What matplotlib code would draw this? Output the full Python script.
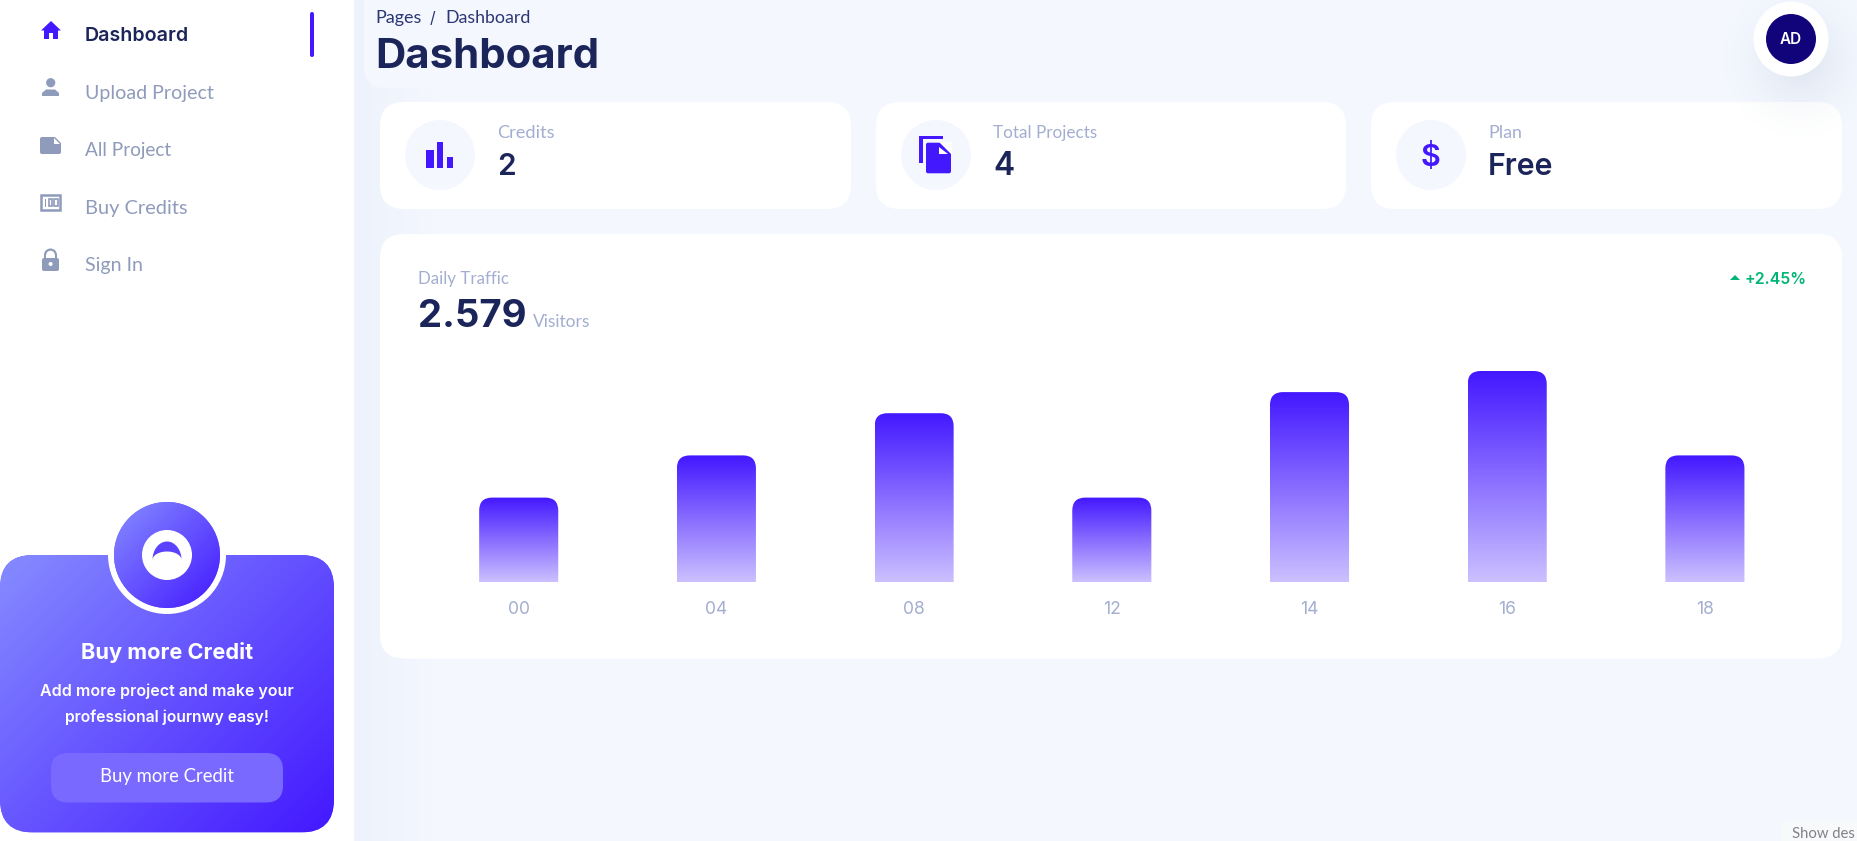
import numpy as np
import matplotlib
matplotlib.use("Agg")
import matplotlib.pyplot as plt
from matplotlib.colors import to_rgb
from matplotlib.font_manager import FontProperties
from matplotlib.patches import Circle, FancyBboxPatch, PathPatch, Polygon, Rectangle, Wedge
from matplotlib.path import Path
from matplotlib.textpath import TextPath

hours = ["00", "04", "08", "12", "14", "16", "18"]
traffic = [20, 30, 40, 20, 45, 50, 30]

nav_items = ["Dashboard", "Upload Project", "All Project", "Buy Credits", "Sign In"]
stat_labels = ["Credits", "Total Projects", "Plan"]
stat_values = ["2", "4", "Free"]

W, H = 1857, 841
NAVY = "#1B2559"
GRAY = "#A3AED0"
SIDE = "#8F9BBA"
BLUE = "#4318FF"
BG = "#F4F7FE"
FONT = "Lato"
HEAVY = "Inter"

fig = plt.figure(figsize=(W / 100, H / 100), dpi=100, facecolor=BG)
ui = fig.add_axes([0, 0, 1, 1])
ui.set_xlim(0, W)
ui.set_ylim(H, 0)
ui.axis("off")
ui.set_autoscale_on(False)


def T(s, x, y, width, color, weight="normal", ha="left", z=10, font=FONT):
    fp = FontProperties(family=font, weight=weight)
    ext = TextPath((0, 0), s, size=100, prop=fp).get_extents().width
    px = width / ext * 100
    ui.text(x, y, s, fontproperties=fp, fontsize=px * 0.72, color=color,
            ha=ha, va="baseline", zorder=z)


def rrect(x0, y0, x1, y1, r, color, z=2, **kw):
    p = FancyBboxPatch((x0, y0), x1 - x0, y1 - y0,
                       boxstyle=f"round,pad=0,rounding_size={r}",
                       fc=color, ec="none", zorder=z, **kw)
    ui.add_patch(p)
    return p


def circ(x, y, r, color, z=3):
    p = Circle((x, y), r, fc=color, ec="none", zorder=z)
    ui.add_patch(p)
    return p


def poly(pts, color, z=4):
    p = Polygon(pts, closed=True, fc=color, ec="none", zorder=z)
    ui.add_patch(p)
    return p


def diag_gradient(x0, y0, x1, y1, c1, c2, clip, z=3):
    w, h = x1 - x0, y1 - y0
    nx, ny = int(w), int(h)
    X, Y = np.meshgrid(np.linspace(0, w, nx), np.linspace(0, h, ny))
    t = (X + Y) / (w + h)
    a, b = np.array(to_rgb(c1)), np.array(to_rgb(c2))
    arr = a[None, None, :] * (1 - t[..., None]) + b[None, None, :] * t[..., None]
    im = ui.imshow(arr, extent=(x0, x1, y1, y0), origin="upper", aspect="auto",
                   zorder=z, interpolation="bilinear")
    im.set_clip_path(clip)


# ---- page background: sidebar shadow fading into the main area
g = np.linspace(0, 1, 80)[None, :, None]
c1, c2 = np.array(to_rgb("#EEF2FC")), np.array(to_rgb(BG))
ui.imshow(c1[None, None, :] * (1 - g) + c2[None, None, :] * g,
          extent=(354, 434, H, 0), origin="upper", aspect="auto", zorder=0)
rrect(364, -30, 700, 88, 20, BG, z=0.5)
ui.add_patch(Rectangle((0, 0), 354, H, fc="white", ec="none", zorder=1))

# ---- sidebar navigation
nav_y = [41, 98.5, 156, 213.5, 271]
nav_w = [101, 127, 86, 100, 56]
for i, (s, y, w) in enumerate(zip(nav_items, nav_y, nav_w)):
    if i == 0:
        T(s, 85, y, w, NAVY, weight="semibold", font=HEAVY)
    else:
        T(s, 85, y, w, SIDE)
rrect(310, 12, 314, 57, 2, BLUE, z=4)

# home
poly([(41, 30.5), (51, 21), (61, 30.5), (58, 30.5), (58, 39), (53, 39), (53, 33),
      (49, 33), (49, 39), (44, 39), (44, 30.5)], BLUE)
# person
circ(50.7, 82.7, 4.6, SIDE, z=4)
poly([(42, 96), (42, 93), (46, 89.5), (55, 89.5), (59, 93), (59, 96)], SIDE)
# file
rrect(40, 137, 61, 154, 2, SIDE, z=4)
poly([(54, 136), (62, 136), (62, 144)], "white", z=5)
poly([(54, 138), (54, 144), (60, 144)], "white", z=5)
# banknote
ui.add_patch(Rectangle((41, 195), 19, 15, fc="white", ec=SIDE, lw=1.8, zorder=4))
ui.add_patch(Rectangle((44.5, 198.5), 1.6, 8, fc=SIDE, ec="none", zorder=5))
for bx in (48.5, 54):
    ui.add_patch(Rectangle((bx, 199), 3.6, 7.2, fc="white", ec=SIDE, lw=1.2, zorder=5))
# lock
rrect(42, 258, 59, 271, 2, SIDE, z=4)
ui.add_patch(Wedge((50.5, 255), 6.5, 180, 360, width=2.2, fc=SIDE, ec="none", zorder=4))
ui.add_patch(Rectangle((44, 255), 2.2, 4, fc=SIDE, ec="none", zorder=4))
ui.add_patch(Rectangle((54.8, 255), 2.2, 4, fc=SIDE, ec="none", zorder=4))
circ(50.6, 264, 2, "white", z=5)

# ---- promo card
card = rrect(0, 555, 334, 832.5, 33, "#6A5CFF", z=2)
diag_gradient(0, 555, 334, 832.5, "#868CFF", BLUE, card, z=3)
circ(167, 555, 59, "white", z=4)
disc = circ(167, 555, 53, "#6A5CFF", z=5)
diag_gradient(114, 502, 220, 608, "#868CFF", BLUE, disc, z=6)
circ(167, 555, 25, "white", z=7)
th = np.linspace(np.pi, 2 * np.pi, 40)
outer = np.c_[167 + 14.5 * np.cos(th), 560 + 18.5 * np.sin(th)]
inner = np.c_[167 + 14.5 * np.cos(th[::-1]), 560 + 8.5 * np.sin(th[::-1])]
poly(np.r_[outer, inner], "#5A42FF", z=8)
T("Buy more Credit", 167, 659, 170, "white", weight="bold", ha="center", font=HEAVY)
T("Add more project and make your", 167, 696, 252, "white", weight="semibold", ha="center", font=HEAVY)
T("professional journwy easy!", 167, 722, 202, "white", weight="semibold", ha="center", font=HEAVY)
rrect(51, 753, 283, 802.5, 17, "#7A69FF", z=8)
T("Buy more Credit", 167, 782, 132, "white", ha="center")

# ---- header
T("Pages", 375, 23, 44, "#2B3674")
T("/", 430, 23, 5, "#2B3674", font=HEAVY)
T("Dashboard", 445.5, 23, 82, "#2B3674")
T("Dashboard", 375, 68, 219, NAVY, weight="bold", font=HEAVY)

# ---- stat cards
cards = [(380, 851), (876, 1346), (1371, 1842)]
circle_x = [440, 936, 1431]
text_x = [497, 993, 1488]
label_w = [56, 103, 31]
value_w = [15, 18, 62]
for (x0, x1), cx, tx, lab, val, lw_, vw in zip(cards, circle_x, text_x, stat_labels,
                                               stat_values, label_w, value_w):
    rrect(x0, 102, x1, 209, 24, "white")
    circ(cx, 155, 35, BG)
    T(lab, tx, 138, lw_, GRAY)
    T(val, tx, 175, vw, NAVY, weight="semibold", font=HEAVY)

# bar icon
for x0, x1, top in [(426, 434, 150), (437, 443, 142), (447, 453, 157)]:
    ui.add_patch(Rectangle((x0, top), x1 - x0, 168 - top, fc=BLUE, ec="none", zorder=4))
# document icon
poly([(919, 136), (943, 136), (943, 139), (923, 139), (923, 163), (919, 163)], BLUE)
rrect(926, 142.7, 951, 173.3, 2, BLUE, z=4)
poly([(939, 141.7), (952, 141.7), (952, 154.7)], "white", z=5)
poly([(939.3, 146.7), (939.3, 154.3), (948.3, 154.3)], "white", z=5)
# dollar sign
ui.text(1430.5, 166, "$", family="Inter", weight="semibold", fontsize=22, color=BLUE,
        ha="center", va="baseline", zorder=5)

# ---- avatar with soft shadow
sx, sy = np.meshgrid(np.linspace(-90, 90, 180), np.linspace(-90, 90, 180))
rad = np.clip(np.hypot(sx, sy) / 90, 0, 1)
shadow = np.zeros((180, 180, 4))
shadow[..., :3] = to_rgb("#7090B0")
shadow[..., 3] = 0.2 * (1 - rad) ** 2
ui.imshow(shadow, extent=(1710, 1890, 150, -30), origin="upper", aspect="auto", zorder=5)
circ(1791, 39, 37.5, "white", z=6)
circ(1791, 39, 25, "#11047A", z=7)
T("AD", 1791, 44, 21, "white", weight="semibold", ha="center", font=HEAVY)

# ---- traffic card
rrect(380, 234, 1842, 658.5, 24, "white")
T("Daily Traffic", 418, 284, 89, GRAY)
T("2.579", 418, 327, 105, NAVY, weight="bold", font=HEAVY)
T("Visitors", 533, 327, 57, GRAY)
T("+2.45%", 1744.5, 284, 59, "#01B574", weight="semibold", font=HEAVY)
poly([(1730, 280), (1735, 275), (1740, 280)], "#01B574")

# chart axes, pixel-aligned with the card
STEP = 197.7
ax_left, ax_right = 518.7 - STEP / 2, 518.7 + 6.5 * STEP
ax_bottom, ax_top = 582, 371
ax = fig.add_axes([ax_left / W, 1 - ax_bottom / H, (ax_right - ax_left) / W,
                   (ax_bottom - ax_top) / H], zorder=3)
ax.patch.set_alpha(0)
ax.set_xlim(-0.5, 6.5)
ax.set_ylim(0, 50)
for s in ax.spines.values():
    s.set_visible(False)
xs = np.arange(len(hours))
bars = ax.bar(xs, traffic, width=0.4, color="none", edgecolor="none")
ax.set_xticks(xs, hours)
ax.set_yticks([])
ax.tick_params(axis="x", length=0, pad=13.5, labelsize=12.6, labelcolor=GRAY)
for lab in ax.get_xticklabels():
    lab.set_family("Inter")

ax.set_autoscale_on(False)
RX = 13 / STEP
RY = 13 / ((ax_bottom - ax_top) / 50)
top_c, bot_c = np.array(to_rgb(BLUE)), np.array(to_rgb("#CCC0FF"))
for b in bars:
    x0, x1, h = b.get_x(), b.get_x() + b.get_width(), b.get_height()
    verts = [(x0, 0), (x0, h - RY), (x0, h), (x0 + RX, h), (x1 - RX, h), (x1, h),
             (x1, h - RY), (x1, 0), (x0, 0)]
    codes = [Path.MOVETO, Path.LINETO, Path.CURVE3, Path.CURVE3, Path.LINETO,
             Path.CURVE3, Path.CURVE3, Path.LINETO, Path.CLOSEPOLY]
    shape = PathPatch(Path(verts, codes), fc="none", ec="none")
    ax.add_patch(shape)
    t = np.linspace(0, 1, 200)[:, None, None]
    im = ax.imshow(top_c[None, None, :] * (1 - t) + bot_c[None, None, :] * t,
                   extent=(x0, x1, 0, h), origin="upper", aspect="auto", zorder=2,
                   interpolation="bilinear")
    im.set_clip_path(shape)

# ---- desktop tooltip cut off by the screenshot edge
rrect(1781, 821, 1880, 870, 4, "#F8F9FB", z=4)
T("Show des", 1792, 838.5, 62, "#7F8287", z=5)

fig.savefig("out.png", dpi=100, facecolor=BG)
